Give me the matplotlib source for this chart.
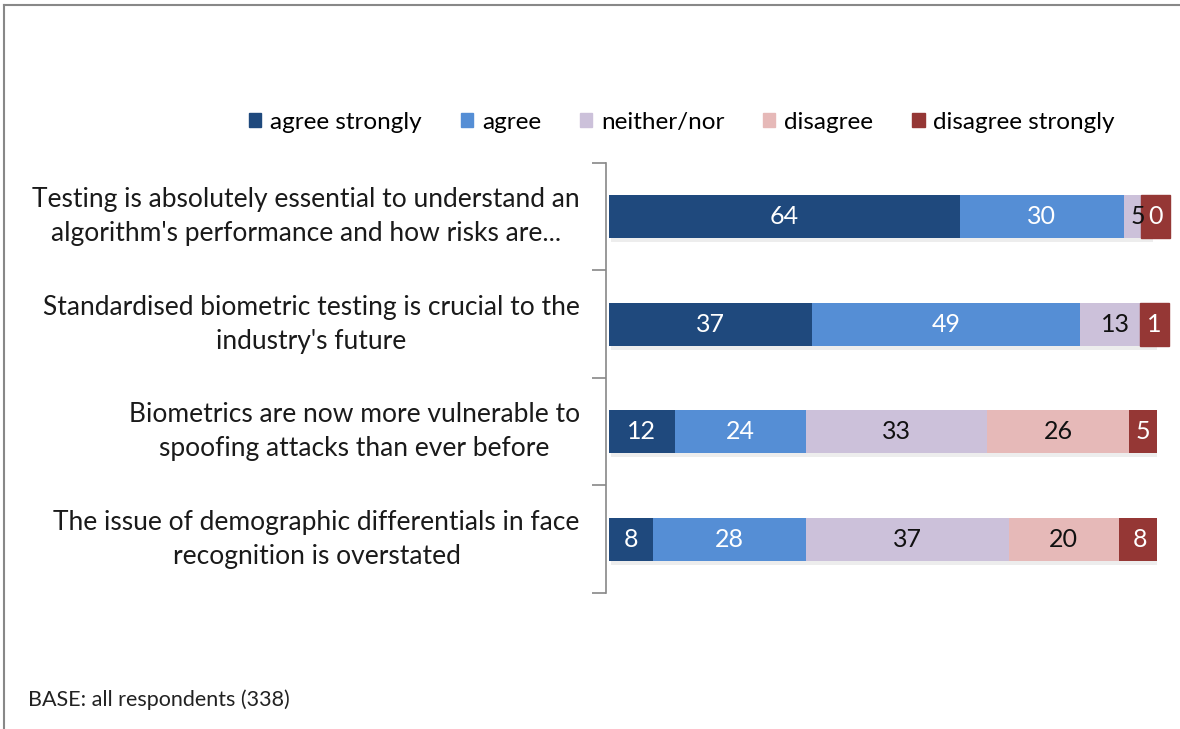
import numpy as np
import matplotlib.pyplot as plt
import matplotlib.patheffects as pe
from matplotlib.lines import Line2D
from matplotlib.patches import Rectangle

plt.rcParams['font.family'] = ['Lato', 'DejaVu Sans']

statements = [
    "Testing is absolutely essential to understand an\nalgorithm's performance and how risks are...",
    "Standardised biometric testing is crucial to the\nindustry's future",
    "Biometrics are now more vulnerable to\nspoofing attacks than ever before",
    "The issue of demographic differentials in face\nrecognition is overstated",
]
responses = ["agree strongly", "agree", "neither/nor", "disagree", "disagree strongly"]
agree_strongly = [64, 37, 12, 8]
agree = [30, 49, 24, 28]
neither = [5, 13, 33, 37]
disagree = [0, 0, 26, 20]
disagree_strongly = [0, 1, 5, 8]

colors = ["#1f497d", "#558ed5", "#ccc1da", "#e6b9b8", "#953735"]
text_colors = ["white", "white", "#111111", "#111111", "white"]
base_note = "BASE: all respondents (338)"

series = [agree_strongly, agree, neither, disagree, disagree_strongly]

BAR_H = 0.4

fig = plt.figure(figsize=(11.8, 7.29), dpi=100)
ax = fig.add_axes([0.516, 0.1866, 0.4644, 0.5898])

y = np.arange(len(statements))
left = np.zeros(len(statements))
shadow = [pe.SimplePatchShadow(offset=(1.5, -3), shadow_rgbFace='#bbbbbb', alpha=0.25), pe.Normal()]
for vals, col, tcol in zip(series, colors, text_colors):
    vals = np.array(vals, dtype=float)
    ax.barh(y, vals, left=left, height=BAR_H, color=col, edgecolor='none',
            path_effects=shadow, zorder=2)
    for i, (v, l) in enumerate(zip(vals, left)):
        if col == colors[3] and v == 0:
            continue
        cx = l + v / 2
        if col == colors[4] and v <= 1:
            # tiny segments: label sits on a filled box as tall as the bar,
            # nudged right so it doesn't cover the neighbouring label
            cx += 0.7 if v == 0 else 0.0
            ax.add_patch(Rectangle((cx - 2.65, i - BAR_H / 2), 5.3, BAR_H, color=col,
                                   zorder=3, clip_on=False))
        ax.text(cx, i, f"{int(v)}", ha='center', va='center', fontsize=18,
                color=tcol, zorder=4)
    left += vals

ax.set_xlim(0, 100)
ax.set_ylim(len(statements) - 0.5, -0.5)
ax.set_yticks(np.arange(len(statements) + 1) - 0.5)
ax.set_yticklabels([])
ax.tick_params(axis='y', length=10, width=1.2, color='#888888')
ax.set_xticks([])
for s in ['top', 'right', 'bottom']:
    ax.spines[s].set_visible(False)
ax.spines['left'].set_color('#888888')
ax.spines['left'].set_linewidth(1.2)
ax.spines['left'].set_position(('outward', 2))

# category labels, right aligned left of the axis
for i, s in enumerate(statements):
    ax.text(-5.3, i, s, ha='right', va='center', fontsize=19, color='#1a1a1a',
            multialignment='center', linespacing=1.45)

handles = [Rectangle((0, 0), 1, 1, color=c) for c in colors]
fig.legend(handles, responses, loc='center', bbox_to_anchor=(0.578, 0.8326), ncol=5,
           frameon=False, fontsize=17.5, handlelength=0.5, handleheight=0.5,
           handletextpad=0.37, columnspacing=1.6)

fig.text(28 / 1180, 1 - 700 / 729, base_note, fontsize=15.5, color='#222222',
         va='center', ha='left')

# outer frame
fig.add_artist(Line2D([4 / 1180, 1], [1 - 5 / 729, 1 - 5 / 729], color='#888888', lw=1.5))
fig.add_artist(Line2D([4 / 1180, 4 / 1180], [0, 1 - 5 / 729], color='#888888', lw=1.5))

fig.savefig('out.png', dpi=100)
